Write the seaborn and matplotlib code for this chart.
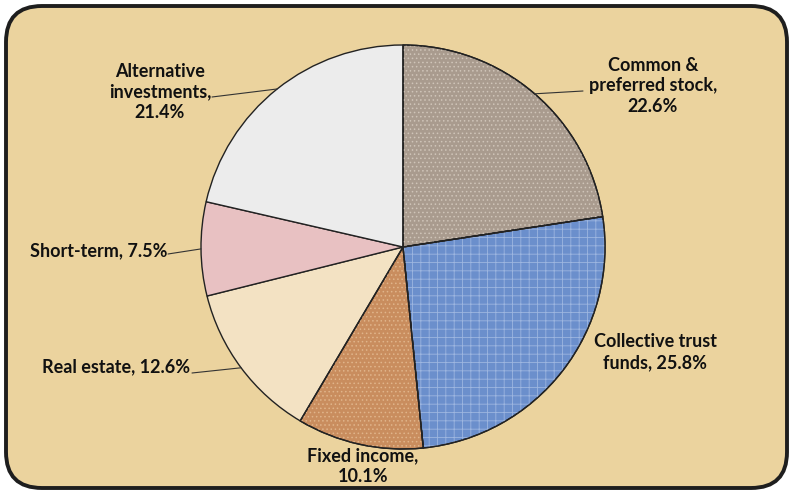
import numpy as np
import seaborn as sns
import matplotlib.pyplot as plt
from matplotlib.patches import FancyBboxPatch, Wedge

# data
categories = ["Common &\npreferred stock", "Collective trust\nfunds", "Fixed income",
              "Real estate", "Short-term", "Alternative\ninvestments"]
shares = [22.6, 25.8, 10.1, 12.6, 7.5, 21.4]
colors = ["#a99b8e", "#6b8fcc", "#c98d5e", "#f3e2c3", "#e8c1c2", "#ececec"]
# subtle texture for the patterned slices
hatches = ["....", "++", "....", None, None, None]
hatch_colors = ["#cfc4b8", "#9db6e0", "#e0b48a", None, None, None]

sns.set_theme(style="white")
plt.rcParams['font.family'] = ['Lato', 'DejaVu Sans']
plt.rcParams['hatch.linewidth'] = 0.6

W, H = 793, 494
fig = plt.figure(figsize=(W / 100, H / 100), dpi=100)
ax = fig.add_axes([0, 0, 1, 1])

# rounded frame
frame = FancyBboxPatch((6, 6), W - 12, H - 12,
                       boxstyle="round,pad=0,rounding_size=36",
                       facecolor="#ebd39e", edgecolor="#1e1e1e", linewidth=2.8, zorder=0)
ax.add_patch(frame)

cx, cy, r = 403, H - 247, 202
wedges, _ = ax.pie(shares, colors=colors, startangle=90, counterclock=False,
                   center=(cx, cy), radius=r, frame=True,
                   wedgeprops=dict(edgecolor="#222222", linewidth=1.0))
for w, h, hc in zip(wedges, hatches, hatch_colors):
    if h:
        ax.add_patch(Wedge(w.center, w.r, w.theta1, w.theta2, facecolor='none',
                           edgecolor=hc, hatch=h, linewidth=0, zorder=w.get_zorder() + 0.1))
        # redraw outline above texture
        ax.add_patch(Wedge(w.center, w.r, w.theta1, w.theta2, facecolor='none',
                           edgecolor="#222222", linewidth=1.0, zorder=w.get_zorder() + 0.2))

ax.set_xlim(0, W)
ax.set_ylim(0, H)
ax.set_aspect('auto')
ax.axis('off')

# label positions (pixel space, y measured from top)
label_pos = [(653, 86, 'center'), (655, 352, 'center'), (363, 466, 'center'),
             (190, 367, 'right'), (167, 251, 'right'), (160, 92, 'center')]
leader_end = [(583, 91), None, None, (192, 373), (168, 254), (212, 97)]

for w, cat, val, (px, py, ha), le in zip(wedges, categories, shares, label_pos, leader_end):
    sep = "\n" if cat in ("Fixed income",) or cat.startswith(("Common", "Alternative")) else " "
    text = f"{cat},{sep}{val:.1f}%"
    ax.text(px, H - py, text, ha=ha, va='center', multialignment='center',
            fontsize=13, fontweight='bold', color='#111111', linespacing=1.28, zorder=5)
    if le:
        ang = np.deg2rad((w.theta1 + w.theta2) / 2)
        ex, ey = cx + r * np.cos(ang), cy + r * np.sin(ang)
        ax.plot([le[0], ex], [H - le[1], ey], color='#333333', lw=0.8, zorder=4)

fig.savefig("out.png", dpi=100)
